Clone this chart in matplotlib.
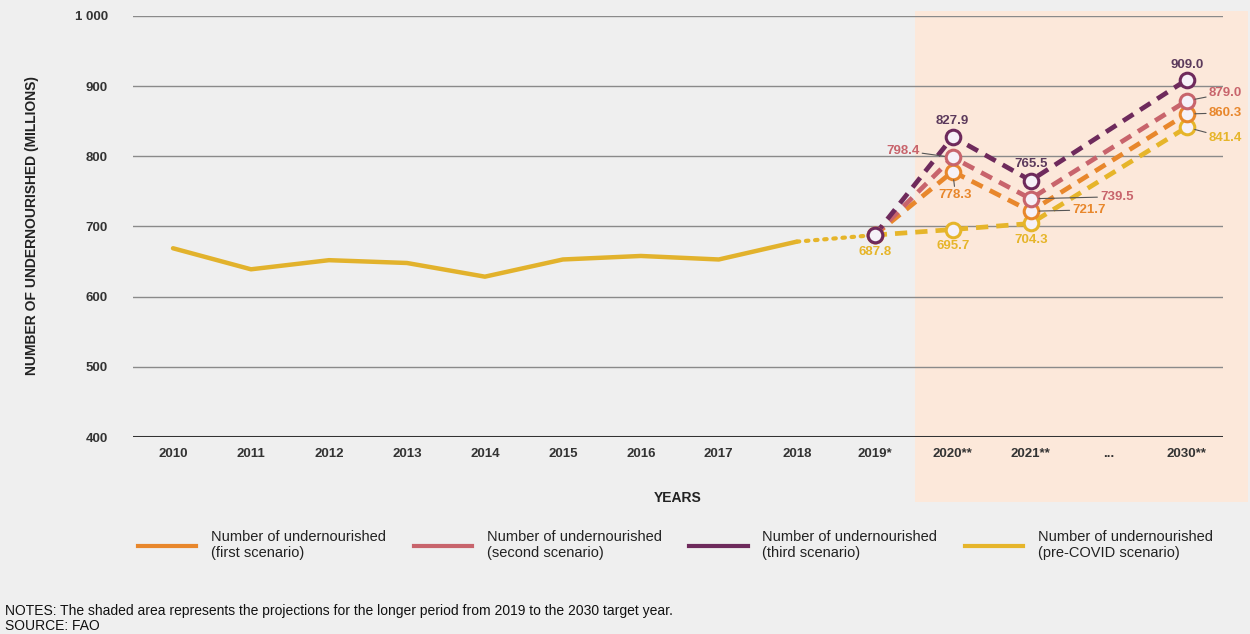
import matplotlib.pyplot as plt
from matplotlib.lines import Line2D
from matplotlib.patches import Rectangle

plt.rcParams['font.family'] = ['Liberation Sans Narrow', 'Liberation Sans', 'DejaVu Sans']

# data
years = ['2010', '2011', '2012', '2013', '2014', '2015', '2016', '2017', '2018',
         '2019*', '2020**', '2021**', '...', '2030**']
hist = [669, 639, 652, 648, 628.5, 653, 658, 653, 678.4]
x_hist = list(range(9))
x_link = [8, 9]
link = [678.4, 687.8]
x_proj = [9, 10, 11, 13]
pre_covid = [687.8, 695.7, 704.3, 841.4]
first = [687.8, 778.3, 721.7, 860.3]
second = [687.8, 798.4, 739.5, 879.0]
third = [687.8, 827.9, 765.5, 909.0]

c_hist = '#e2b22c'
c_pre = '#e6b52a'
c_first = '#e8872c'
c_second = '#c8646c'
c_third = '#6e2a5c'
c_third_txt = '#5c3a5c'
marker_face = '#f6f1f8'

fig = plt.figure(figsize=(12.5, 6.34), dpi=100)
fig.patch.set_facecolor('#efefef')
fig.patches.append(Rectangle((0.732, 0.208), 0.266, 0.775, transform=fig.transFigure,
                             facecolor='#fce8da', edgecolor='none', zorder=0))

ax = fig.add_axes([0.1064, 0.3107, 0.8716, 0.6641])
ax.set_zorder(2)
ax.set_facecolor('none')
ax.set_xlim(-0.513, 13.46)
ax.set_ylim(400, 1000)

for v in [500, 600, 700, 800, 900, 1000]:
    ax.axhline(v, color='#8a8a8a', lw=1.0, zorder=1)
ax.axhline(400, color='#333333', lw=2.2, zorder=1)

ax.plot(x_hist, hist, color=c_hist, lw=3.2, solid_capstyle='round', zorder=3)
ax.plot(x_link, link, color=c_pre, lw=3, linestyle=(0, (0.6, 1.6)),
        dash_capstyle='round', zorder=3)

dash = (0, (2.6, 1.7))
for vals, col in [(pre_covid, c_pre), (first, c_first), (second, c_second), (third, c_third)]:
    ax.plot(x_proj, vals, color=col, lw=3.4, linestyle=dash, zorder=4)
for vals, col in [(pre_covid, c_pre), (first, c_first), (second, c_second), (third, c_third)]:
    ax.plot(x_proj, vals, linestyle='none', marker='o', markersize=10.5,
            markerfacecolor=marker_face, markeredgecolor=col, markeredgewidth=2.2, zorder=5)

lbl = dict(fontsize=9.5, fontweight='bold', ha='center', va='center', zorder=6)
lead = dict(arrowstyle='-', color='#555555', lw=0.8, shrinkA=0, shrinkB=6)


def label(x, y, txt, col, dx, dy, leader=False, ha='center'):
    kw = dict(lbl)
    kw['ha'] = ha
    if leader:
        ax.annotate(txt, (x, y), xytext=(dx, dy), textcoords='offset points',
                    color=col, arrowprops=lead, **kw)
    else:
        ax.annotate(txt, (x, y), xytext=(dx, dy), textcoords='offset points',
                    color=col, **kw)


# third scenario labels
label(13, third[3], '909.0', c_third_txt, 0, 11)
label(10, third[1], '827.9', c_third_txt, 0, 11)
label(11, third[2], '765.5', c_third_txt, 0, 12)
# second scenario
label(13, second[3], '879.0', c_second, 16, 5.5, leader=True, ha='left')
label(10, second[1], '798.4', c_second, -24, 5, leader=True, ha='right')
label(11, second[2], '739.5', c_second, 50, 1.5, leader=True, ha='left')
# first scenario
label(13, first[3], '860.3', c_first, 16, 0.8, leader=True, ha='left')
label(10, first[1], '778.3', c_first, 2, -17, leader=True)
label(11, first[2], '721.7', c_first, 30, 1, leader=True, ha='left')
# pre-covid
label(13, pre_covid[3], '841.4', c_pre, 16, -7.5, leader=True, ha='left')
label(11, pre_covid[2], '704.3', c_pre, 0, -12)
label(10, pre_covid[1], '695.7', c_pre, 0, -12)
label(9, pre_covid[0], '687.8', c_pre, 0, -12)

ax.set_xticks(range(len(years)))
ax.set_xticklabels(years, fontsize=9.5, fontweight='bold', color='#333333')
ax.set_yticks([400, 500, 600, 700, 800, 900, 1000])
ax.set_yticklabels(['400', '500', '600', '700', '800', '900', '1 000'],
                   fontsize=9.5, fontweight='bold', color='#333333')
ax.tick_params(length=0, pad=8)
ax.tick_params(axis='y', pad=18)
for s in ax.spines.values():
    s.set_visible(False)

ax.set_xlabel('YEARS', fontsize=10, fontweight='bold', color='#222222', labelpad=22)
fig.text(0.026, 0.645, 'NUMBER OF UNDERNOURISHED (MILLIONS)', rotation=90,
         fontsize=10, fontweight='bold', color='#222222', ha='center', va='center')

handles = [Line2D([], [], color=c, lw=3) for c in [c_first, c_second, c_third, c_pre]]
names = ['Number of undernourished\n(first scenario)',
         'Number of undernourished\n(second scenario)',
         'Number of undernourished\n(third scenario)',
         'Number of undernourished\n(pre-COVID scenario)']
fig.legend(handles, names, loc='center left', bbox_to_anchor=(0.1, 0.14), ncol=4,
           frameon=False, fontsize=10.5, handlelength=4.0, handletextpad=1.0,
           columnspacing=1.9, labelcolor='#222222')

fig.text(0.004, 0.037, 'NOTES: The shaded area represents the projections for the longer period '
         'from 2019 to the 2030 target year.', fontsize=10, color='#111111', va='center')
fig.text(0.004, 0.012, 'SOURCE: FAO', fontsize=10, color='#111111', va='center')

fig.savefig('out.png', dpi=100, facecolor=fig.get_facecolor())
